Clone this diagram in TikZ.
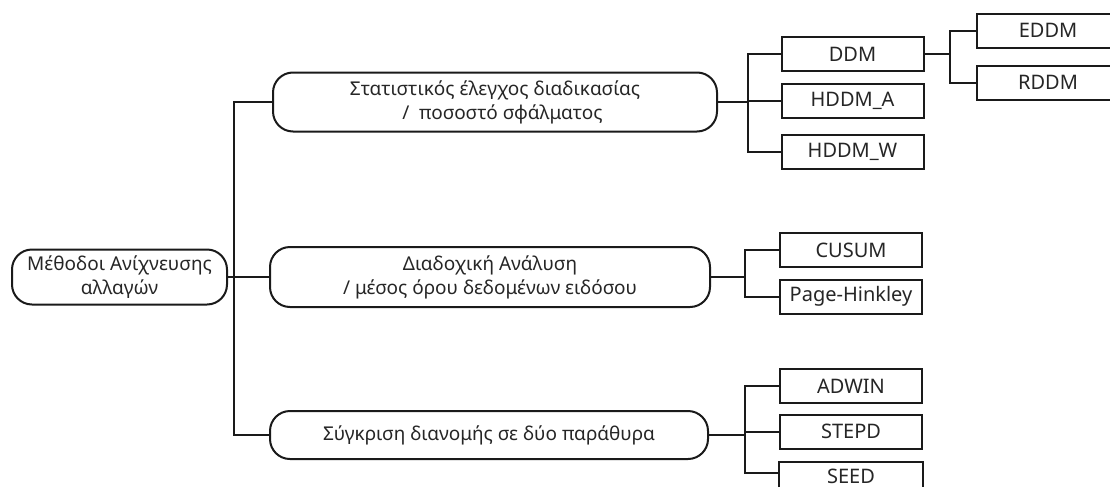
\documentclass[tikz,border=0pt]{standalone}
\usepackage{fontspec}
\setmainfont{Noto Sans}
\definecolor{txt}{HTML}{262626}
\definecolor{ln}{HTML}{1A1A1A}
\begin{document}
\begin{tikzpicture}[x=1pt,y=-1pt,
  rbox/.style={draw=ln,line width=2pt,rounded corners=20pt,inner sep=0pt,align=center,text=txt,font=\fontsize{19}{24}\selectfont},
  leaf/.style={draw=ln,line width=2pt,inner sep=0pt,minimum width=142pt,minimum height=34pt,text=txt,font=\fontsize{20}{22}\selectfont},
  conn/.style={draw=ln,line width=2pt}]
\useasboundingbox (0,0) rectangle (1110,490);
\fill[white] (0,0) rectangle (1110,490);
\node[rbox,minimum width=215pt,minimum height=55pt] (root) at (119.5,277) {Μέθοδοι Ανίχνευσης\\αλλαγών};
\node[rbox,minimum width=444pt,minimum height=59pt] (b1) at (495,102) {Στατιστικός έλεγχος διαδικασίας\\\ \ \ /\ \ ποσοστό σφάλματος};
\node[rbox,minimum width=440pt,minimum height=60pt] (b2) at (490,277) {Διαδοχική Ανάλυση\\/ μέσος όρου δεδομένων ειδόσου};
\node[rbox,minimum width=438pt,minimum height=48pt] (b3) at (489,435) {Σύγκριση διανομής σε δύο παράθυρα};
\node[leaf] (ddm) at (852.5,54) {DDM};
\node[leaf] (hda) at (852.5,101) {HDDM\_A};
\node[leaf] (hdw) at (852.5,151.5) {HDDM\_W};
\node[leaf] (eddm) at (1048,30.5) {EDDM};
\node[leaf] (rddm) at (1048,82.5) {RDDM};
\node[leaf] (cusum) at (851,250) {CUSUM};
\node[leaf] (ph) at (851,296.5) {Page-Hinkley};
\node[leaf] (adwin) at (851,386) {ADWIN};
\node[leaf] (stepd) at (851,431.5) {STEPD};
\node[leaf,draw=none,minimum height=27pt] (seed) at (851,476.5) {SEED};
\draw[conn] ([yshift=4pt]seed.south west) -- (seed.north west) -- (seed.north east) -- ([yshift=4pt]seed.south east);
\coordinate (j0) at (234,0);
\coordinate (j1) at (748,0);
\coordinate (j4) at (950,0);
\coordinate (j2) at (745,0);
\coordinate (j3) at (745,0);
% root to level 1
\draw[conn] (b1.west) -- (b1.west -| j0) -- (b3.west -| j0) -- (b3.west);
\draw[conn] (root.east) -- (b2.west);
% group 1
\draw[conn] (ddm.west) -- (ddm.west -| j1) -- (hdw.west -| j1) -- (hdw.west);
\draw[conn] (b1.east) -- (b1.east -| j1);
\draw[conn] (hda.west) -- (hda.west -| j1);
% DDM children
\draw[conn] (eddm.west) -- (eddm.west -| j4) -- (rddm.west -| j4) -- (rddm.west);
\draw[conn] (ddm.east) -- (ddm.east -| j4);
% group 2
\draw[conn] (cusum.west) -- (cusum.west -| j2) -- (ph.west -| j2) -- (ph.west);
\draw[conn] (b2.east) -- (b2.east -| j2);
% group 3
\draw[conn] (adwin.west) -- (adwin.west -| j3) -- ([yshift=3.5pt]seed.west -| j3) -- ([yshift=3.5pt]seed.west);
\draw[conn] (b3.east) -- (b3.east -| j3);
\draw[conn] (stepd.west) -- (stepd.west -| j3);
\end{tikzpicture}
\end{document}
